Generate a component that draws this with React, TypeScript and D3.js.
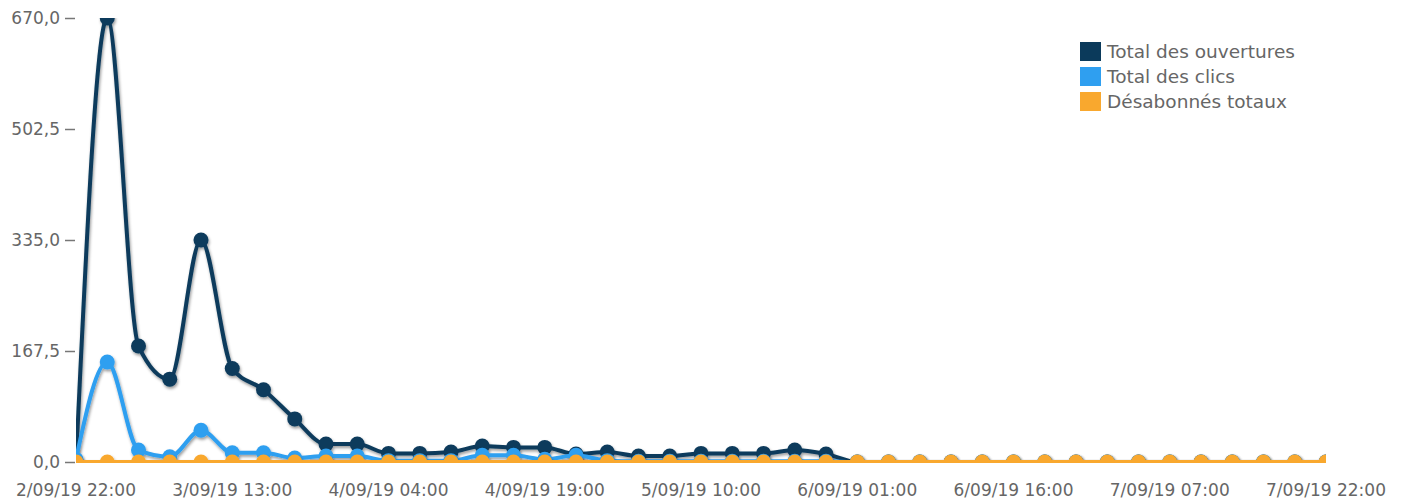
import React, { useEffect, useRef } from 'react'
import * as d3 from 'd3'

// 3-hourly samples from 2/09/19 22:00 to 7/09/19 22:00
const ouvertures = [0, 670, 175, 125, 335, 141, 109, 65, 27, 27, 13, 13, 15, 24, 22, 22, 12, 15, 9, 9,
  13, 13, 13, 18, 12, 0, 0, 0, 0, 0, 0, 0, 0, 0, 0, 0, 0, 0, 0, 0, 0]
const clics = [4, 151, 18, 8, 48, 14, 14, 6, 9, 9, 2, 2, 2, 10, 10, 4, 10, 2, 1, 1,
  1, 1, 1, 1, 1, 0, 0, 0, 0, 0, 0, 0, 0, 0, 0, 0, 0, 0, 0, 0, 0]
const desabonnes = [0, 0, 0, 0, 0, 0, 0, 0, 0, 0, 0, 0, 0, 0, 0, 0, 0, 0, 0, 0,
  0, 0, 0, 0, 0, 0, 0, 0, 0, 0, 0, 0, 0, 0, 0, 0, 0, 0, 0, 0, 0]

const xLabels = ['2/09/19 22:00', '3/09/19 13:00', '4/09/19 04:00', '4/09/19 19:00', '5/09/19 10:00',
  '6/09/19 01:00', '6/09/19 16:00', '7/09/19 07:00', '7/09/19 22:00']
const yTicks = [0, 167.5, 335, 502.5, 670]

const seriesNames = ['Total des ouvertures', 'Total des clics', 'Désabonnés totaux']
const colors = ['#0b3a5b', '#2f9ff0', '#f9a82e']

const STEP_H = 3
const LABEL_STEP_H = 15

export default function App () {
  const ref = useRef<SVGSVGElement>(null)

  useEffect(() => {
    const svg = d3.select(ref.current)
    svg.selectAll('*').remove()

    const margin = { left: 76, right: 84, top: 18, bottom: 42 }
    const width = 1410
    const height = 504
    const font = 'DejaVu Sans, sans-serif'

    const x = d3.scaleLinear().domain([0, (ouvertures.length - 1) * STEP_H]).range([margin.left, width - margin.right])
    const y = d3.scaleLinear().domain([0, 670]).range([height - margin.bottom, margin.top])

    const defs = svg.append('defs')
    const f = defs.append('filter').attr('id', 'shadow').attr('x', '-20%').attr('y', '-20%').attr('width', '140%').attr('height', '140%')
    f.append('feDropShadow').attr('dx', 1).attr('dy', 2).attr('stdDeviation', 1.5)
      .attr('flood-color', '#000').attr('flood-opacity', 0.4)
    defs.append('clipPath').attr('id', 'plot')
      .append('rect')
      .attr('x', margin.left).attr('y', margin.top)
      .attr('width', width - margin.left - margin.right)
      .attr('height', height - margin.top - margin.bottom + 1)

    // axe vertical
    const yAxis = d3.axisLeft(y)
      .tickValues(yTicks)
      .tickSize(10)
      .tickPadding(5)
      .tickFormat(d => d3.format('.1f')(d as number).replace('.', ','))
    const gy = svg.append('g').attr('transform', `translate(${margin.left - 1},0)`).call(yAxis)
    gy.select('.domain').remove()
    gy.selectAll('line').attr('stroke', '#777').attr('stroke-width', 1.5)
    gy.selectAll('text').attr('fill', '#666').style('font-family', font).style('font-size', '17px').attr('dy', '0.35em')

    // axe horizontal
    svg.append('g').selectAll('text').data(xLabels).enter().append('text')
      .attr('x', (d, i) => x(i * LABEL_STEP_H))
      .attr('y', 496)
      .attr('text-anchor', 'middle')
      .attr('fill', '#666')
      .style('font-family', font)
      .style('font-size', '17px')
      .text(d => d)

    const plot = svg.append('g').attr('clip-path', 'url(#plot)')
    const line = d3.line<number>()
      .x((d, i) => x(i * STEP_H))
      .y(d => y(d))
      .curve(d3.curveMonotoneX)

    const all = [ouvertures, clics, desabonnes]
    all.forEach((vals, si) => {
      const g = plot.append('g').attr('filter', 'url(#shadow)')
      g.append('path')
        .attr('d', line(vals))
        .attr('fill', 'none')
        .attr('stroke', colors[si])
        .attr('stroke-width', 4)
      g.selectAll('circle').data(vals).enter().append('circle')
        .attr('cx', (d, i) => x(i * STEP_H))
        .attr('cy', d => y(d))
        .attr('r', 7.5)
        .attr('fill', colors[si])
    })

    // légende
    const lg = svg.append('g').attr('transform', 'translate(1080,42)')
    seriesNames.forEach((name, i) => {
      lg.append('rect').attr('x', 0).attr('y', i * 25).attr('width', 21).attr('height', 19).attr('fill', colors[i])
      lg.append('text').attr('x', 27).attr('y', i * 25 + 16)
        .attr('fill', '#666')
        .style('font-family', font)
        .style('font-size', '18.5px')
        .text(name)
    })
  }, [])

  return (
    <svg ref={ref} width={1410} height={504} style={{ position: 'absolute', left: 0, top: 0, background: '#fff' }} />
  )
}
